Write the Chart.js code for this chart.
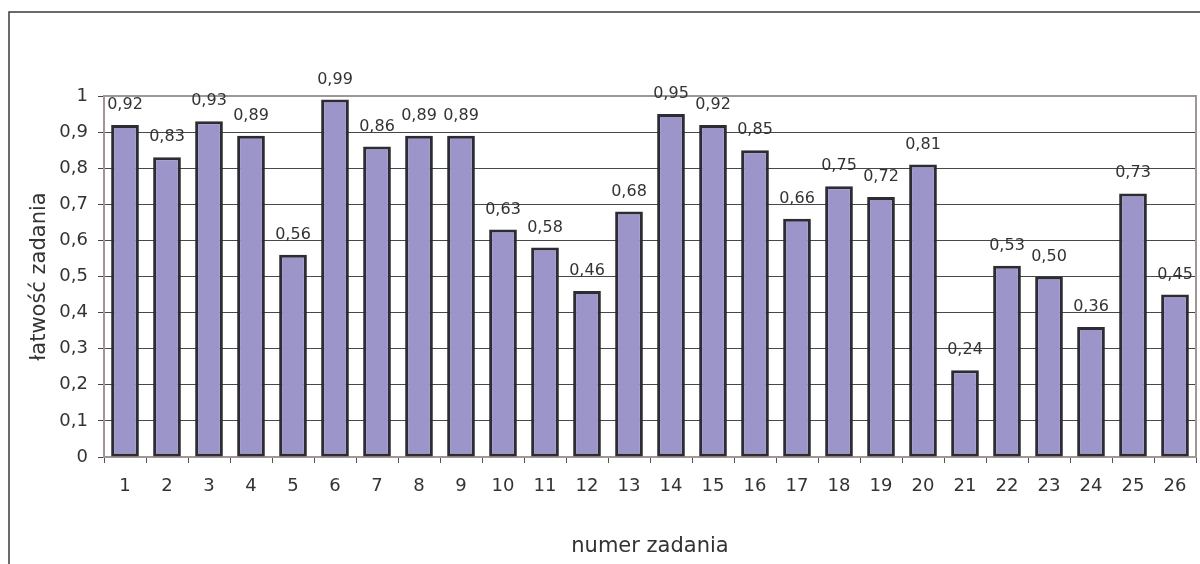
<!DOCTYPE html>
<html lang="pl">
<head>
<meta charset="utf-8">
<title>Łatwość zadań</title>
<script src="https://cdn.jsdelivr.net/npm/chart.js@4/dist/chart.umd.min.js"></script>
<style>
  html, body { margin: 0; padding: 0; background: #fff; }
  #wrap { width: 1200px; height: 564px; }
</style>
</head>
<body>
<div id="wrap"><canvas id="c" width="1200" height="564"></canvas></div>
<script>
// numer zadania (1..26)
const zadania = ['1','2','3','4','5','6','7','8','9','10','11','12','13','14','15','16','17','18','19','20','21','22','23','24','25','26'];
// łatwość każdego zadania
const latwosc = [0.92, 0.83, 0.93, 0.89, 0.56, 0.99, 0.86, 0.89, 0.89, 0.63, 0.58, 0.46, 0.68,
                 0.95, 0.92, 0.85, 0.66, 0.75, 0.72, 0.81, 0.24, 0.53, 0.50, 0.36, 0.73, 0.45];
// etykiety osi pionowej
const yTickLabels = ['0','0,1','0,2','0,3','0,4','0,5','0,6','0,7','0,8','0,9','1'];

const FONT = "'DejaVu Sans', sans-serif";
const TEXT = '#333333';

// outer frame + plot-area frame
const framePlugin = {
  id: 'frames',
  beforeDraw(chart) {
    const ctx = chart.ctx;
    ctx.save();
    ctx.fillStyle = '#ffffff';
    ctx.fillRect(0, 0, chart.width, chart.height);
    ctx.strokeStyle = '#3a3a3a';
    ctx.lineWidth = 1.5;
    ctx.strokeRect(9, 12, chart.width + 20, chart.height + 20);
    ctx.restore();
  },
  beforeDatasetsDraw(chart) {
    const a = chart.chartArea, ctx = chart.ctx;
    ctx.save();
    ctx.strokeStyle = '#a09696';
    ctx.lineWidth = 2;
    ctx.strokeRect(a.left, a.top, a.right - a.left, a.bottom - a.top);
    ctx.restore();
  }
};

// value labels above bars
const valueLabels = {
  id: 'valueLabels',
  afterDatasetsDraw(chart) {
    const ctx = chart.ctx;
    const meta = chart.getDatasetMeta(0);
    ctx.save();
    ctx.font = '16px ' + FONT;
    ctx.fillStyle = TEXT;
    ctx.textAlign = 'center';
    ctx.textBaseline = 'alphabetic';
    meta.data.forEach((bar, i) => {
      const v = chart.data.datasets[0].data[i];
      ctx.fillText(v.toFixed(2).replace('.', ','), bar.x, bar.y - 16);
    });
    ctx.restore();
  }
};

new Chart(document.getElementById('c'), {
  type: 'bar',
  data: {
    labels: zadania,
    datasets: [{
      data: latwosc,
      backgroundColor: '#9b95c9',
      borderColor: '#2c2c32',
      borderWidth: 3,
      borderSkipped: false,
      barPercentage: 0.66,
      categoryPercentage: 1
    }]
  },
  options: {
    responsive: false,
    animation: false,
    devicePixelRatio: 1,
    layout: { padding: { top: 96, right: 4, left: 0, bottom: 0 } },
    plugins: { legend: { display: false }, tooltip: { enabled: false } },
    scales: {
      x: {
        grid: { display: true, drawOnChartArea: false, drawTicks: true, tickLength: 6, tickColor: '#555555', offset: true },
        border: { display: false },
        ticks: { color: TEXT, font: { family: FONT, size: 18 }, padding: 13, maxRotation: 0, autoSkip: false },
        title: { display: true, text: 'numer zadania', color: TEXT, font: { family: FONT, size: 21 }, padding: { top: 0, bottom: 5 } },
        afterFit(scale) { scale.height = 107; }
      },
      y: {
        min: 0, max: 1,
        grid: {
          drawTicks: true, tickLength: 6,
          color: ctx => (ctx.index === 0 || ctx.index === 10) ? 'rgba(0,0,0,0)' : '#474747',
          tickColor: '#444444', lineWidth: 1
        },
        border: { display: false },
        ticks: {
          stepSize: 0.1, color: TEXT, font: { family: FONT, size: 18 }, padding: 10,
          callback: (v, i) => yTickLabels[i]
        },
        title: { display: true, text: 'łatwość zadania', color: TEXT, font: { family: FONT, size: 21 }, padding: { top: 27, bottom: 0 } },
        afterFit(scale) { scale.width = 104; }
      }
    }
  },
  plugins: [framePlugin, valueLabels]
});
</script>
</body>
</html>
